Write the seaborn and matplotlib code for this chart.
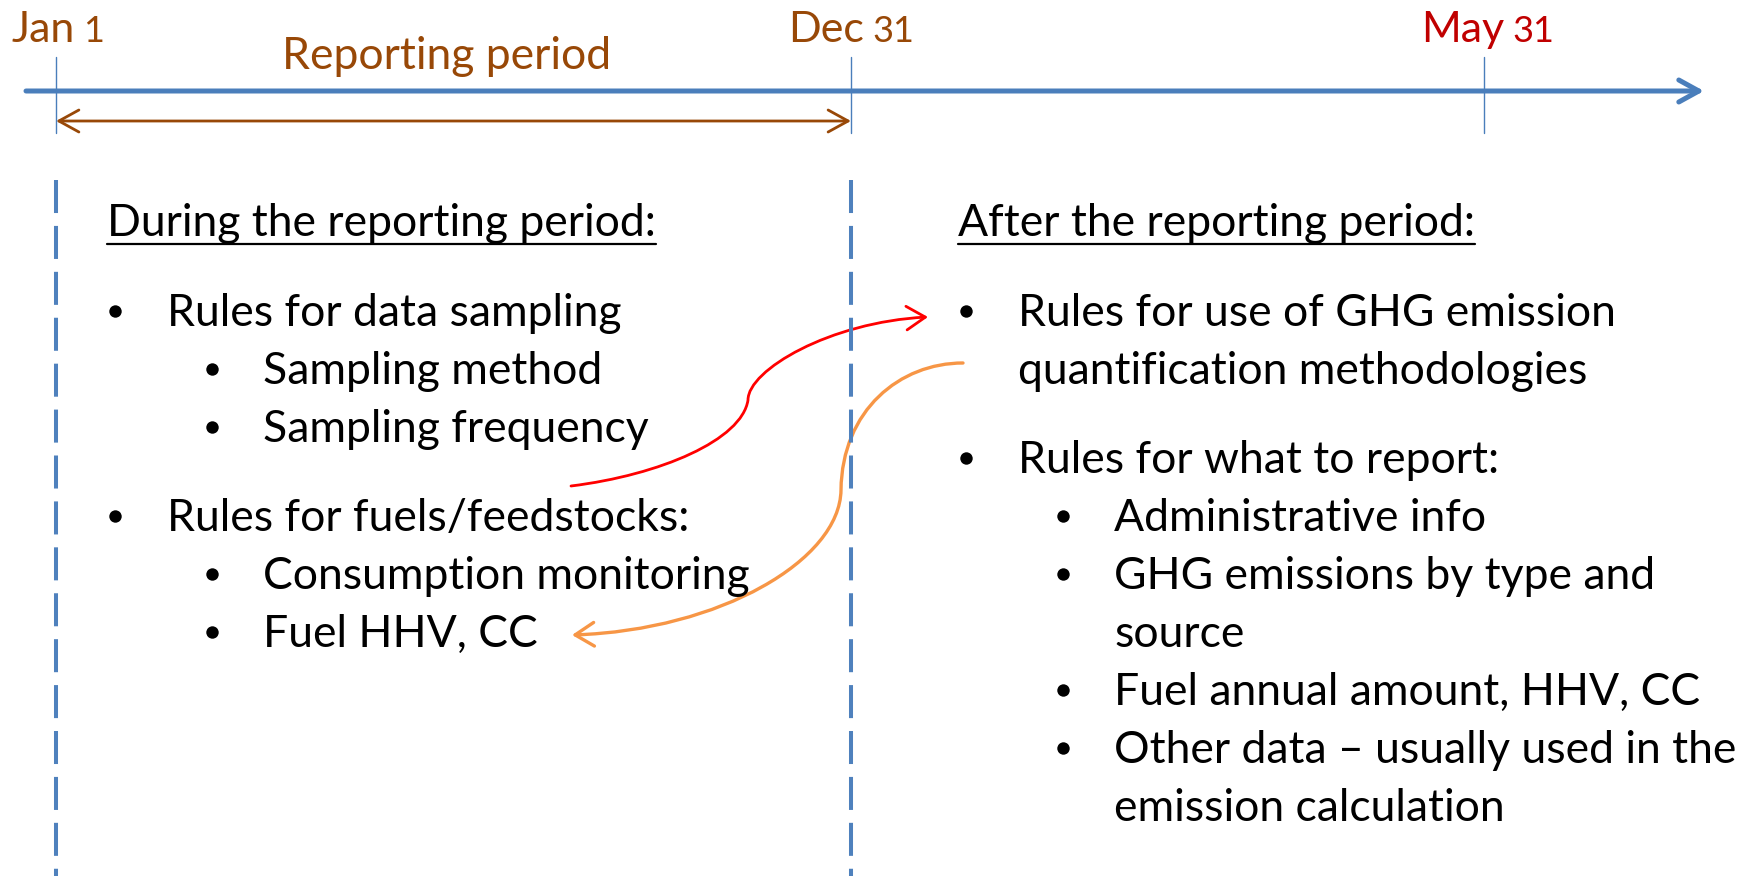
import matplotlib
matplotlib.use("Agg")
import matplotlib.pyplot as plt
import seaborn as sns
import pandas as pd
from matplotlib.patches import FancyArrowPatch
from matplotlib.path import Path

# --- content --------------------------------------------------------------
date_months = ["Jan", "Dec", "May"]
date_days = ["1", "31", "31"]
date_colors = ["#984807", "#984807", "#C00000"]
period_label = "Reporting period"

left_heading = "During the reporting period:"
left_items = [
    (1, ["Rules for data sampling"]),
    (2, ["Sampling method"]),
    (2, ["Sampling frequency"]),
    (1, ["Rules for fuels/feedstocks:"]),
    (2, ["Consumption monitoring"]),
    (2, ["Fuel HHV, CC"]),
]

right_heading = "After the reporting period:"
right_items = [
    (1, ["Rules for use of GHG emission", "quantification methodologies"]),
    (1, ["Rules for what to report:"]),
    (2, ["Administrative info"]),
    (2, ["GHG emissions by type and", "source"]),
    (2, ["Fuel annual amount, HHV, CC"]),
    (2, ["Other data \u2013 usually used in the", "emission calculation"]),
]

# --- style ----------------------------------------------------------------
sns.set_theme(style="white")
plt.rcParams["font.family"] = ["Lato", "DejaVu Sans"]
plt.rcParams["text.color"] = "black"

BLUE = "#4A7EBB"
DASH_BLUE = "#4F81BD"
BROWN = "#984807"
FS = 32        # body text
FS_DATE = 31
FS_DAY = 26

fig = plt.figure(figsize=(17.46, 8.76), dpi=100)
ax = fig.add_axes([0, 0, 1, 1])
ax.set_xlim(0, 1746)
ax.set_ylim(876, 0)
ax.axis("off")

# timeline
ax.add_patch(FancyArrowPatch((26, 91), (1704, 91), arrowstyle="->,head_length=0.4,head_width=0.22",
                             mutation_scale=36, lw=3.6, color=BLUE, shrinkA=0, shrinkB=0))
tick_x = [56, 851, 1484]
for x in tick_x:
    ax.plot([x, x], [57, 133], color=BLUE, lw=1.0)

# date labels
label_x = [11, 788, 1421]
for x, m, d, c in zip(label_x, date_months, date_days, date_colors):
    t = ax.text(x, 42, m, fontsize=FS_DATE, color=c, va="baseline", ha="left")
    ax.annotate(d, xy=(1.0, 42), xycoords=(t, "data"), xytext=(6, 0),
                textcoords="offset points", fontsize=FS_DAY, color=c, va="baseline", ha="left")

# reporting period
ax.text(447, 69, period_label, fontsize=FS, color=BROWN, va="baseline", ha="center")
ax.add_patch(FancyArrowPatch((56, 121), (851, 121), arrowstyle="<->,head_length=0.4,head_width=0.22",
                             mutation_scale=36, lw=2.0, color=BROWN, shrinkA=0, shrinkB=0))

# dashed separators
for x in tick_x[:2]:
    ax.plot([x, x], [180, 876], color=DASH_BLUE, lw=2.9, linestyle=(0, (8.2, 3.2)))


def draw_column(x0, heading, items):
    h = ax.text(x0, 236, heading, fontsize=FS, color="black", va="baseline", ha="left")
    fig.canvas.draw()
    bb = h.get_window_extent().transformed(ax.transData.inverted())
    ax.plot([bb.x0, bb.x1], [244, 244], color="black", lw=1.6)

    bullets = []
    y = 326
    first = True
    for level, lines in items:
        if level == 1 and not first:
            y += 31
        first = False
        bx = x0 + (8 if level == 1 else 105)
        tx = x0 + (60 if level == 1 else 156)
        bullets.append((bx, y - 15))
        for line in lines:
            ax.text(tx, y, line, fontsize=FS, color="black", va="baseline", ha="left")
            y += 58
    df = pd.DataFrame(bullets, columns=["x", "y"])
    sns.scatterplot(data=df, x="x", y="y", ax=ax, color="black", s=80, linewidth=0, legend=False)


draw_column(107, left_heading, left_items)
draw_column(958, right_heading, right_items)
ax.set_xlim(0, 1746)
ax.set_ylim(876, 0)
ax.axis("off")

# curved arrows between the columns
M, C = Path.MOVETO, Path.CURVE4
red_path = Path([(571, 486), (660, 475), (742, 440), (748, 400),
                 (748, 370), (830, 322), (928, 317)],
                [M, C, C, C, C, C, C])
ax.add_patch(FancyArrowPatch(path=red_path, arrowstyle="->,head_length=0.4,head_width=0.25",
                             mutation_scale=34, lw=2.0, color="#FF0000"))
orange_path = Path([(963, 363), (900, 363), (842, 410), (841, 490),
                    (840, 560), (720, 630), (572, 635)],
                   [M, C, C, C, C, C, C])
ax.add_patch(FancyArrowPatch(path=orange_path, arrowstyle="->,head_length=0.4,head_width=0.25",
                             mutation_scale=34, lw=2.4, color="#F79646"))

fig.savefig("out.png", dpi=100)
